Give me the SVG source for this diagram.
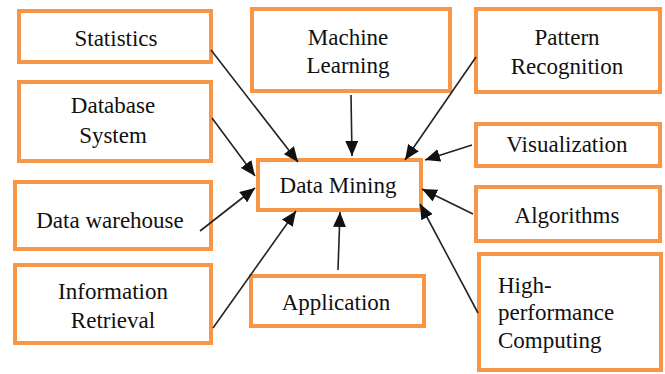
<svg xmlns="http://www.w3.org/2000/svg" width="665" height="374" viewBox="0 0 665 374">
<defs>
<style>
.box{fill:#fff;stroke:#F79646;stroke-width:4}
.t{font-family:'Liberation Serif','DejaVu Serif','Noto Serif','Times New Roman',Times,serif;font-size:23px;fill:#111;text-anchor:middle}
.tl{text-anchor:start}
.c{stroke:#222;stroke-width:1.6;fill:none;marker-end:url(#ah)}
</style>
<marker id="ah" markerUnits="userSpaceOnUse" markerWidth="15" markerHeight="13" refX="15" refY="6.5" orient="auto">
<path d="M0,0 L15,6.5 L0,13 z" fill="#111"/>
</marker>
</defs>
<rect width="665" height="374" fill="#fff"/>
<g id="statistics"><rect class="box" x="19" y="11" width="192" height="51"/><text class="t" x="116" y="46">Statistics</text></g>
<g id="database"><rect class="box" x="19" y="82" width="192" height="79"/><text class="t" x="113" y="113">Database</text><text class="t" x="113" y="143">System</text></g>
<g id="warehouse"><rect class="box" x="15" y="182" width="196" height="67"/><text class="t" x="110" y="228">Data warehouse</text></g>
<g id="retrieval"><rect class="box" x="15" y="265" width="196" height="78"/><text class="t" x="113" y="299">Information</text><text class="t" x="113" y="328">Retrieval</text></g>
<g id="machine"><rect class="box" x="252" y="9" width="198" height="82"/><text class="t" x="348" y="45">Machine</text><text class="t" x="348" y="73">Learning</text></g>
<g id="mining"><rect class="box" x="258" y="160" width="163" height="50"/><text class="t" x="338" y="193">Data Mining</text></g>
<g id="application"><rect class="box" x="251" y="276" width="173" height="50"/><text class="t" x="336" y="310">Application</text></g>
<g id="pattern"><rect class="box" x="476" y="9" width="184" height="83"/><text class="t" x="567" y="45">Pattern</text><text class="t" x="567" y="74">Recognition</text></g>
<g id="visualization"><rect class="box" x="476" y="124" width="184" height="42"/><text class="t" x="567" y="152">Visualization</text></g>
<g id="algorithms"><rect class="box" x="476" y="187" width="184" height="54"/><text class="t" x="567" y="223">Algorithms</text></g>
<g id="hpc"><rect class="box" x="479" y="254" width="182" height="116"/><text class="t tl" x="498" y="293">High-</text><text class="t tl" x="498" y="320">performance</text><text class="t tl" x="498" y="348">Computing</text></g>
<g id="connectors">
<line class="c" x1="211" y1="50" x2="298" y2="162"/>
<line class="c" x1="212" y1="118" x2="255" y2="176"/>
<line class="c" x1="200" y1="231" x2="255" y2="188"/>
<line class="c" x1="213" y1="328" x2="296" y2="211"/>
<line class="c" x1="351" y1="95" x2="352" y2="156"/>
<line class="c" x1="476" y1="57" x2="405" y2="160"/>
<line class="c" x1="472" y1="145" x2="425" y2="160"/>
<line class="c" x1="473" y1="214" x2="422" y2="189"/>
<line class="c" x1="478" y1="313" x2="420" y2="204"/>
<line class="c" x1="338" y1="270" x2="340" y2="212"/>
</g>
</svg>
